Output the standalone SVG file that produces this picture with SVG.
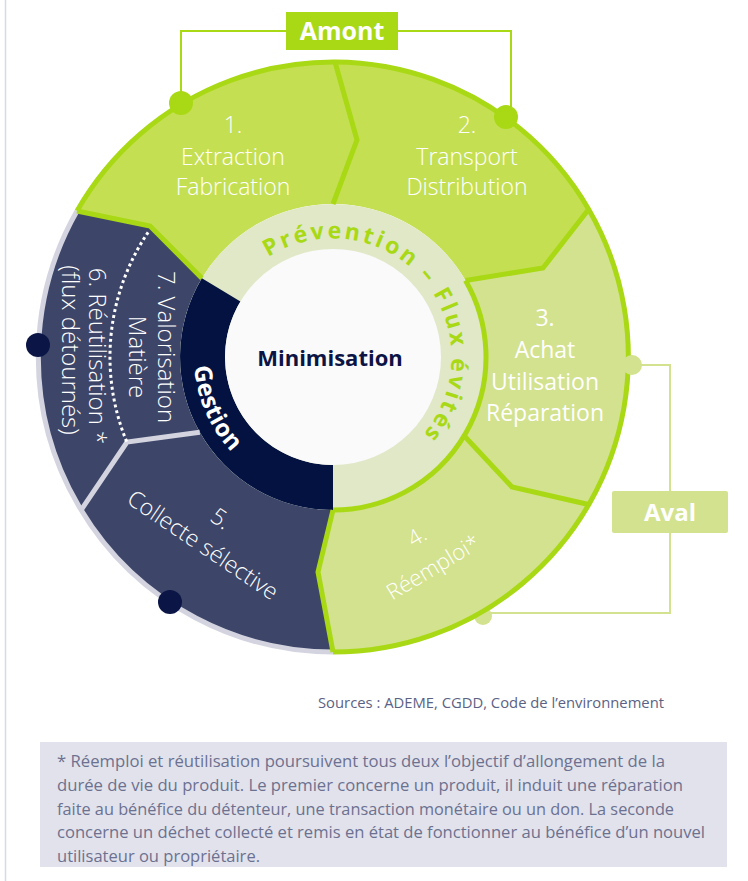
<svg xmlns="http://www.w3.org/2000/svg" width="748" height="881" viewBox="0 0 748 881">
<style>
.t{font-family:"Open Sans","Noto Sans","DejaVu Sans",sans-serif}
.lt{font-weight:300;fill:#fff}
.rg{font-weight:400;fill:#fff}
.bd{font-weight:700}
.gl{fill:none;stroke:#a8d914;stroke-width:5;stroke-linejoin:miter}
.gr{fill:none;stroke:#d3d4df;stroke-width:5;stroke-linejoin:miter}
.br{fill:none;stroke-width:2}
.pv{font-size:23px;fill:#a8d914;letter-spacing:2.8px}
</style>
<defs>
<path id="prevPath" d="M268.2,257.2 A119,119 0 1 1 392.5,460.1"/>
<path id="gestPath" d="M194.3,366.7 A139,139 0 0 0 308.9,493.9"/>
</defs>
<rect width="748" height="881" fill="#ffffff"/>
<line x1="5.5" y1="0" x2="5.5" y2="881" stroke="#d5d9ea" stroke-width="1.5"/>

<g id="connectors">
<path class="br" stroke="#a8d914" d="M181,102 L181,31 L287,31 M398,31 L511,31 L511,112"/>
<path class="br" stroke="#d3e28e" d="M640,365 L670,365 L670,492 M670,532 L670,613 L490,613"/>
<circle cx="483" cy="616" r="9" fill="#d3e28e"/>
</g>

<g id="seg1"><path d="M77,211 A295,295 0 0 1 335,62 L357,140 L333,204 A153,153 0 0 0 201.9,278.2 L150,226 Z" fill="#c5df52"/></g>
<g id="seg2"><path d="M335,62 A295,295 0 0 1 588.5,209.5 L543,268 L465.5,280.5 A153,153 0 0 0 333,204 L357,140 Z" fill="#c5df52"/></g>
<g id="seg3"><path d="M588.5,209.5 A295,295 0 0 1 588.5,504.5 L512,487 L464.1,435.8 A153,153 0 0 0 465.5,280.5 L543,268 Z" fill="#d3e28e"/></g>
<g id="seg4"><path d="M588.5,504.5 A295,295 0 0 1 333,652 L318,572 L333,510 A153,153 0 0 0 464.1,435.8 L512,487 Z" fill="#d3e28e"/></g>
<g id="seg567"><path d="M333,652 A295,295 0 0 1 77,211 L150,226 L201.9,278.2 A153,153 0 0 0 333,510 L318,572 Z" fill="#3d4669"/></g>

<g id="ring">
<circle cx="333" cy="357" r="153" fill="#e0e8c8"/>
<path d="M201.9,278.2 A153,153 0 0 0 333,510 L333,465 A108,108 0 0 1 240.4,301.4 Z" fill="#031240"/>
<circle cx="333" cy="357" r="108" fill="#fafafa"/>
</g>

<g id="outlines">
<path class="gl" d="M77,211 A295,295 0 1 1 333,652"/>
<path class="gr" d="M333,652 A295,295 0 0 1 77,211"/>
<path class="gl" stroke-width="4" d="M465.5,280.5 A153,153 0 0 1 333,510"/>
<path class="gl" d="M77,211 L150,226 L201.9,278.2"/>
<path class="gl" d="M335,62 L357,140 L333,204"/>
<path class="gl" d="M588.5,209.5 L543,268 L465.5,280.5"/>
<path class="gl" d="M464.1,435.8 L512,487 L588.5,504.5"/>
<path class="gl" d="M333,510 L318,572 L333,652"/>
<path class="gr" stroke-width="4" d="M80.9,510.3 L127,442 L199.8,432.3"/>
<path fill="none" stroke="#ffffff" stroke-width="3" stroke-dasharray="3 3" d="M148.1,232.3 A223,223 0 0 0 126.8,442"/>
</g>

<g id="dots">
<circle cx="181" cy="103" r="12" fill="#a8d914"/>
<circle cx="506" cy="117" r="12" fill="#a8d914"/>
<circle cx="632" cy="365" r="10" fill="#d3e28e"/>
<circle cx="38" cy="345" r="12" fill="#0b1646"/>
<circle cx="170" cy="602" r="12" fill="#0b1646"/>
</g>

<g id="amont">
<rect x="286" y="12" width="112" height="38" fill="#a8d914"/>
<text class="t bd" x="342" y="40" font-size="25" fill="#fff" text-anchor="middle">Amont</text>
</g>
<g id="aval">
<rect x="612" y="491" width="116" height="42" rx="2" fill="#d3e28e"/>
<text class="t bd" x="670" y="521" font-size="24" fill="#fff" text-anchor="middle">Aval</text>
</g>

<g id="label1" class="t lt" font-size="23" text-anchor="middle">
<text x="233" y="133">1.</text>
<text x="233" y="165">Extraction</text>
<text x="233" y="195">Fabrication</text>
</g>
<g id="label2" class="t lt" font-size="23" text-anchor="middle">
<text x="467" y="133">2.</text>
<text x="467" y="165">Transport</text>
<text x="467" y="195">Distribution</text>
</g>
<g id="label3" class="t rg" font-size="23" text-anchor="middle">
<text x="545" y="326">3.</text>
<text x="545" y="358">Achat</text>
<text x="545" y="390">Utilisation</text>
<text x="545" y="421">Réparation</text>
</g>
<g id="label4" class="t lt" font-size="22" text-anchor="middle" transform="translate(433,567) rotate(-31)">
<text x="2" y="-27">4.</text>
<text x="0" y="8">Réemploi*</text>
</g>
<g id="label5" class="t lt" font-size="23" text-anchor="middle" transform="translate(203,545) rotate(34)">
<text x="0" y="-24">5.</text>
<text x="0" y="8">Collecte sélective</text>
</g>
<g id="label7" class="t lt" font-size="24" text-anchor="middle">
<text transform="translate(158,347) rotate(90)">7. Valorisation</text>
<text transform="translate(129,357) rotate(90)">Matière</text>
</g>
<g id="label6" class="t lt" font-size="24" text-anchor="middle">
<text transform="translate(89,356) rotate(90)">6. Réutilisation *</text>
<text transform="translate(62,350) rotate(90)">(flux détournés)</text>
</g>

<g id="prevention">
<text class="t bd pv"><textPath href="#prevPath">Prévention –</textPath></text>
<text class="t bd pv"><textPath href="#prevPath" startOffset="187">Flux évités</textPath></text>
</g>
<g id="gestion">
<text class="t bd" font-size="24" fill="#ffffff" letter-spacing="0.5"><textPath href="#gestPath">Gestion</textPath></text>
</g>
<g id="minimisation">
<text class="t bd" x="330" y="366" font-size="22" fill="#0c1445" text-anchor="middle">Minimisation</text>
</g>

<g id="sources">
<text class="t" x="318" y="708" font-size="15" fill="#5b6283" textLength="346" lengthAdjust="spacingAndGlyphs">Sources : ADEME, CGDD, Code de l’environnement</text>
</g>
<g id="note">
<rect x="40" y="742" width="687" height="125" fill="#e2e2ec"/>
<g class="t" font-size="16" fill="#6c7190" lengthAdjust="spacingAndGlyphs">
<text x="57" y="767" textLength="608" lengthAdjust="spacingAndGlyphs">* Réemploi et réutilisation poursuivent tous deux l’objectif d’allongement de la</text>
<text x="57" y="791" textLength="626" lengthAdjust="spacingAndGlyphs">durée de vie du produit. Le premier concerne un produit, il induit une réparation</text>
<text x="57" y="815" textLength="617" lengthAdjust="spacingAndGlyphs">faite au bénéfice du détenteur, une transaction monétaire ou un don. La seconde</text>
<text x="57" y="838" textLength="648" lengthAdjust="spacingAndGlyphs">concerne un déchet collecté et remis en état de fonctionner au bénéfice d’un nouvel</text>
<text x="57" y="862" textLength="203" lengthAdjust="spacingAndGlyphs">utilisateur ou propriétaire.</text>
</g>
</g>
</svg>
